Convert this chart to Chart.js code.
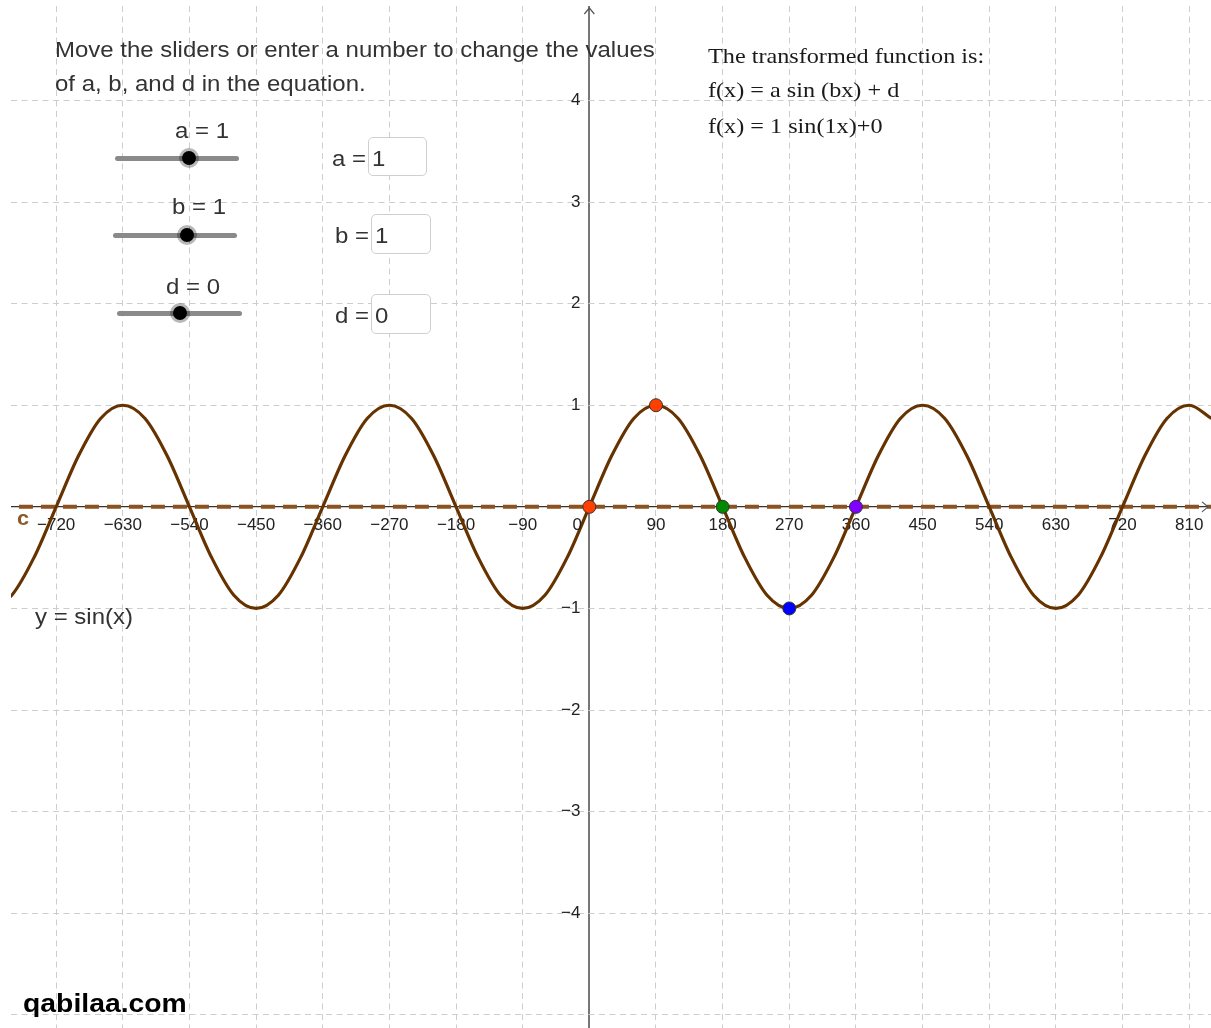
<!DOCTYPE html>
<html>
<head>
<meta charset="utf-8">
<title>y = sin(x)</title>
<script src="https://cdn.jsdelivr.net/npm/chart.js@4.4.0/dist/chart.umd.min.js"></script>
<style>
  body { margin: 0; background: #fff; }
  #wrap { position: relative; width: 1211px; height: 1028px; overflow: hidden;
          font-family: "Liberation Sans", Arial, sans-serif; color: #333; }
  #chartSine { position: absolute; left: 0; top: 0; }
  .t { position: absolute; font-size: 22px; line-height: 22px; white-space: nowrap;
       transform: scaleX(1.09); transform-origin: 0 0; }
  .serif { font-family: "Liberation Serif", "Times New Roman", serif; color: #1a1a1a; transform: scaleX(1.1); }
  .track { position: absolute; height: 5px; background: #8a8a8a; border-radius: 3px; margin-top: -2.5px; }
  .knob { position: absolute; width: 14px; height: 14px; margin: -7px 0 0 -7px; border-radius: 50%;
          background: #000; box-shadow: 0 0 0 3px rgba(0, 0, 0, 0.28); }
  .box { position: absolute; background: #fff; border: 1px solid #cfcfcf; border-radius: 5px; box-sizing: border-box; }
  .brand { position: absolute; font-weight: bold; font-size: 26px; line-height: 26px; color: #000;
           transform: scaleX(1.09); transform-origin: 0 0; }
</style>
</head>
<body>
<div id="wrap">
  <canvas id="chartSine" width="1211" height="1028"></canvas>

  <div class="t" style="left:55px; top:39px;">Move the sliders or enter a number to change the values</div>
  <div class="t" style="left:55px; top:73px;">of a, b, and d in the equation.</div>

  <div class="t" style="left:175px; top:120px;">a = 1</div>
  <div class="track" style="left:115px; top:158px; width:124px;"></div>
  <div class="knob" style="left:189px; top:158px;"></div>

  <div class="t" style="left:172px; top:196px;">b = 1</div>
  <div class="track" style="left:113px; top:235px; width:124px;"></div>
  <div class="knob" style="left:187px; top:235px;"></div>

  <div class="t" style="left:166px; top:276px;">d = 0</div>
  <div class="track" style="left:117px; top:313px; width:125px;"></div>
  <div class="knob" style="left:180px; top:313px;"></div>

  <div class="box" style="left:368px; top:137px; width:59px; height:39px;"></div>
  <div class="t" style="left:332px; top:148px;">a =</div>
  <div class="t" style="left:372px; top:148px;">1</div>

  <div class="box" style="left:371px; top:214px; width:60px; height:40px;"></div>
  <div class="t" style="left:335px; top:225px;">b =</div>
  <div class="t" style="left:375px; top:225px;">1</div>

  <div class="box" style="left:371px; top:294px; width:60px; height:40px;"></div>
  <div class="t" style="left:335px; top:305px;">d =</div>
  <div class="t" style="left:375px; top:305px;">0</div>

  <div class="t serif" style="left:708px; top:45px;">The transformed function is:</div>
  <div class="t serif" style="left:708px; top:79px;">f(x) = a sin (bx) + d</div>
  <div class="t serif" style="left:708px; top:115px;">f(x) = 1 sin(1x)+0</div>

  <div class="t" style="left:17px; top:507px; font-weight:bold; color:#8b5a2b; font-size:20px;">c</div>
  <div class="t" style="left:35px; top:606px;">y = sin(x)</div>

  <div class="brand" style="left:23px; top:990px;">qabilaa.com</div>
</div>

<script>
// y = sin(x), sampled every 30 degrees
const angles = [
  -810, -780, -750, -720, -690, -660, -630, -600, -570, -540, -510, -480,
  -450, -420, -390, -360, -330, -300, -270, -240, -210, -180, -150, -120,
  -90, -60, -30, 0, 30, 60, 90, 120, 150, 180, 210, 240,
  270, 300, 330, 360, 390, 420, 450, 480, 510, 540, 570, 600,
  630, 660, 690, 720, 750, 780, 810, 840
];
const sinValues = [
  -1, -0.87, -0.5, 0, 0.5, 0.87, 1, 0.87, 0.5, 0, -0.5, -0.87,
  -1, -0.87, -0.5, 0, 0.5, 0.87, 1, 0.87, 0.5, 0, -0.5, -0.87,
  -1, -0.87, -0.5, 0, 0.5, 0.87, 1, 0.87, 0.5, 0, -0.5, -0.87,
  -1, -0.87, -0.5, 0, 0.5, 0.87, 1, 0.87, 0.5, 0, -0.5, -0.87,
  -1, -0.87, -0.5, 0, 0.5, 0.87, 1, 0.87
];

// marked points on the curve
const markAngles = [0, 90, 180, 270, 360];
const markValues = [0, 1, 0, -1, 0];
const markColors = ['#ff4000', '#ff4000', '#008a00', '#0000ff', '#7f00ff'];

// line c : y = 0
const lineCx = [-800, 850];
const lineCy = [0, 0];

// axis ticks
const xTicks = [-720, -630, -540, -450, -360, -270, -180, -90, 0, 90, 180, 270, 360, 450, 540, 630, 720, 810];
const yTicks = [-5, -4, -3, -2, -1, 0, 1, 2, 3, 4];
const hiddenYLabels = [0, -5];

const toPoints = (xs, ys) => xs.map((v, i) => ({ x: v, y: ys[i] }));
const fmt = v => (v < 0 ? '\u2212' + Math.abs(v) : String(v));
const isZero = ctx => ctx.tick && ctx.tick.value === 0;
// the axes sit inside the plot, so their labels must not shrink it
const noPadding = scale => {
  scale.paddingLeft = scale.paddingRight = scale.paddingTop = scale.paddingBottom = 0;
};

Chart.defaults.font.family = '"Liberation Sans", Arial, sans-serif';

// arrow heads on the axes and the origin label
const axisArrows = {
  id: 'axisArrows',
  afterDraw(chart) {
    const { ctx, chartArea, scales: { x, y } } = chart;
    const x0 = x.getPixelForValue(0);
    const y0 = y.getPixelForValue(0);
    ctx.save();
    ctx.strokeStyle = '#555';
    ctx.lineWidth = 1.2;
    ctx.beginPath();
    ctx.moveTo(x0 - 5, chartArea.top + 8);
    ctx.lineTo(x0, chartArea.top + 2);
    ctx.lineTo(x0 + 5, chartArea.top + 8);
    ctx.moveTo(chartArea.right - 9, y0 - 5);
    ctx.lineTo(chartArea.right - 3, y0);
    ctx.lineTo(chartArea.right - 9, y0 + 5);
    ctx.stroke();
    ctx.fillStyle = '#222';
    ctx.font = '17px "Liberation Sans", Arial, sans-serif';
    ctx.textAlign = 'center';
    ctx.textBaseline = 'middle';
    ctx.fillText('0', x0 - 12, y0 + 18);
    ctx.restore();
  }
};

new Chart(document.getElementById('chartSine'), {
  type: 'scatter',
  data: {
    datasets: [
      {
        data: toPoints(markAngles, markValues),
        backgroundColor: markColors,
        borderColor: '#333',
        borderWidth: 1,
        pointRadius: 6.5,
        order: 0
      },
      {
        data: toPoints(angles, sinValues),
        showLine: true,
        borderColor: '#663300',
        borderWidth: 3.2,
        pointRadius: 0,
        cubicInterpolationMode: 'monotone',
        order: 1
      },
      {
        data: toPoints(lineCx, lineCy),
        showLine: true,
        borderColor: '#8c5220',
        borderWidth: 4,
        borderDash: [14, 8],
        pointRadius: 0,
        order: 2
      }
    ]
  },
  options: {
    responsive: false,
    animation: false,
    layout: { autoPadding: false, padding: { left: 11, top: 6, right: 0, bottom: 0 } },
    plugins: { legend: { display: false }, tooltip: { enabled: false } },
    scales: {
      x: {
        type: 'linear',
        position: { y: 0 },
        min: -781,
        max: 839.5,
        afterBuildTicks: scale => { scale.ticks = xTicks.map(v => ({ value: v })); },
        afterFit: noPadding,
        ticks: {
          autoSkip: false,
          maxRotation: 0,
          padding: 8,
          color: '#222',
          font: { size: 17 },
          callback: v => (v === 0 ? '' : fmt(v))
        },
        // the grid line at x = 0 is the y axis
        grid: {
          color: ctx => (isZero(ctx) ? '#777' : '#cdcdcd'),
          lineWidth: ctx => (isZero(ctx) ? 2 : 1),
          drawTicks: false
        },
        border: { display: false, dash: ctx => (isZero(ctx) ? [] : [6, 4.5]) }
      },
      y: {
        type: 'linear',
        // labels sit a little left of the y axis
        position: { x: -12 },
        min: -5.13,
        max: 4.93,
        afterBuildTicks: scale => { scale.ticks = yTicks.map(v => ({ value: v })); },
        afterFit: noPadding,
        ticks: {
          autoSkip: false,
          color: '#222',
          font: { size: 17 },
          callback: v => (hiddenYLabels.includes(v) ? '' : fmt(v))
        },
        // the grid line at y = 0 is the x axis
        grid: {
          color: ctx => (isZero(ctx) ? '#333' : '#cdcdcd'),
          lineWidth: ctx => (isZero(ctx) ? 1.2 : 1),
          drawTicks: false
        },
        border: { display: false, dash: ctx => (isZero(ctx) ? [] : [6, 4.5]) }
      }
    }
  },
  plugins: [axisArrows]
});
</script>
</body>
</html>
